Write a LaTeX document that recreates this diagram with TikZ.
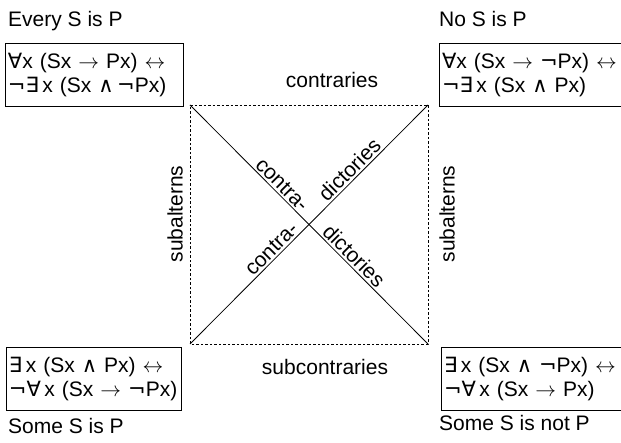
\documentclass[tikz,border=0pt]{standalone}
\usepackage{fontspec}
\setmainfont{Liberation Sans}
\newfontfamily\symfont{DejaVu Sans}
\newcommand{\forallsym}{{\symfont ∀}}
\newcommand{\existssym}{{\symfont ∃}}
\newcommand{\notsym}{{\symfont ¬}}
\newcommand{\andsym}{{\symfont ∧}}

\begin{document}
\begin{tikzpicture}[x=1pt, y=-1pt, font=\fontsize{21}{24}\selectfont]
    \tikzstyle{formula} = [draw, line width=1pt, align=left, anchor=north west,
      inner xsep=2.5pt, inner ysep=0pt, minimum height=63pt]
    \tikzstyle{square edge} = [draw, line width=0.9pt, dash pattern=on 2.5pt off 2pt]
    \tikzstyle{cross edge} = [draw, line width=0.8pt]

      \clip (0,0) rectangle (621,443);

      % corners of the square
      \coordinate (tl) at (190,105);
      \coordinate (tr) at (428,105);
      \coordinate (bl) at (190,344);
      \coordinate (br) at (428,344);

      % the four propositions
      \node[formula, text width=173pt] (every)   at (5,43)
        {\mbox{\forallsym x (Sx $\rightarrow$ Px) $\leftrightarrow$}\\
         \mbox{\notsym\existssym\,x (Sx \andsym\,\notsym Px)}};
      \node[formula, text width=200pt] (no)      at (439,43)
        {\mbox{\forallsym x (Sx $\rightarrow$ \notsym Px) $\leftrightarrow$}\\
         \mbox{\notsym\existssym\,x (Sx \andsym\ Px)}};
      \node[formula, text width=170pt] (some)    at (6,347)
        {\mbox{\existssym\,x (Sx \andsym\ Px) $\leftrightarrow$}\\
         \mbox{\notsym\forallsym\,x (Sx $\rightarrow$ \notsym Px)}};
      \node[formula, text width=200pt] (somenot) at (441,347)
        {\mbox{\existssym\,x (Sx \andsym\ \notsym Px) $\leftrightarrow$}\\
         \mbox{\notsym\forallsym\,x (Sx $\rightarrow$ Px)}};

      \node[anchor=base west, inner sep=0pt] (everyname)   at (8,27)    {Every S is P};
      \node[anchor=base west, inner sep=0pt] (noname)      at (439,27)  {No S is P};
      \node[anchor=base west, inner sep=0pt] (somename)    at (8,433)   {Some S is P};
      \node[anchor=base west, inner sep=0pt] (somenotname) at (439,430) {Some S is not P};

      % the square and its diagonals
      \draw[square edge] (tl) -- (tr) -- (br) -- (bl) -- cycle;
      \draw[cross edge] (tl) -- (br)
        node[pos=0.36, sloped, above, inner sep=2pt] (contraA) {contra-}
        node[pos=0.66, sloped, above, inner sep=2pt] (dictA) {dictories};
      \draw[cross edge] (bl) -- (tr)
        node[pos=0.37, sloped, above, inner sep=2pt] (contraB) {contra-}
        node[pos=0.70, sloped, above, inner sep=2pt] (dictB) {dictories};

      \node (contr)    at (332,80)  {contraries};
      \node (subcontr) at (325,367) {subcontraries};
      \node[rotate=90] (subaltL) at (175,214) {subalterns};
      \node[rotate=90] (subaltR) at (447,214) {subalterns};
    \end{tikzpicture}
\end{document}
